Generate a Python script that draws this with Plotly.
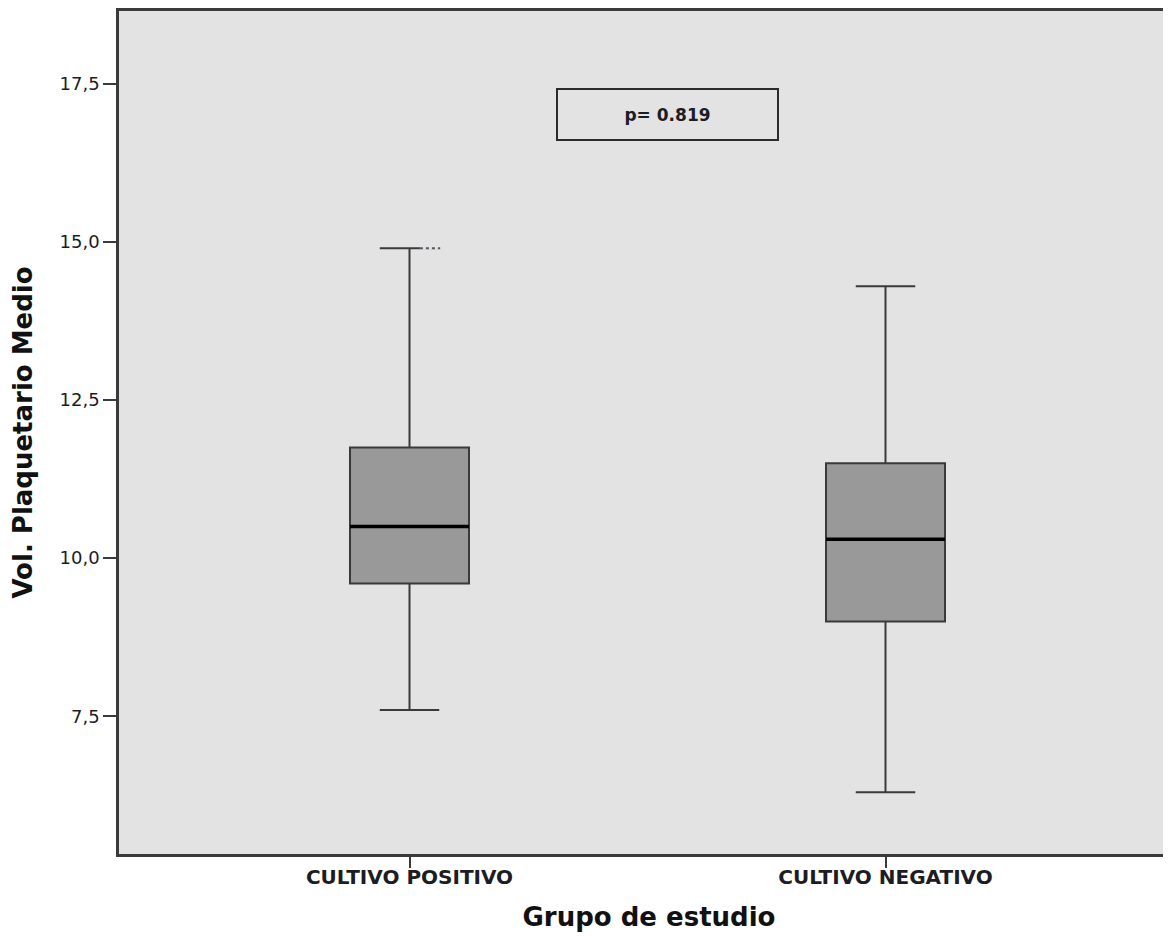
import plotly.graph_objects as go

categories = ["CULTIVO POSITIVO", "CULTIVO NEGATIVO"]
lower_whisker = [7.6, 6.3]
q1 = [9.6, 9.0]
median = [10.5, 10.3]
q3 = [11.75, 11.5]
upper_whisker = [14.9, 14.3]
y_ticks = [7.5, 10.0, 12.5, 15.0, 17.5]
y_tick_labels = ["7,5", "10,0", "12,5", "15,0", "17,5"]
p_text = "p= 0.819"
p_pos = (0.541, 17.02)

positions = list(range(len(categories)))
box_width = 0.25
whisker_frac = 0.5

FONT = "DejaVu Sans"
TEXT = "#1c1c24"
BG = "#e3e3e3"
LINE = "#3a3a3a"

fig = go.Figure()
fig.add_trace(go.Box(
    x=positions, q1=q1, median=median, q3=q3,
    lowerfence=lower_whisker, upperfence=upper_whisker,
    width=box_width, whiskerwidth=whisker_frac,
    fillcolor="#999999", line=dict(color=LINE, width=2),
    boxpoints=False, hoverinfo="skip", showlegend=False,
))
for p, m in zip(positions, median):
    fig.add_trace(go.Scatter(
        x=[p - box_width / 2, p + box_width / 2], y=[m, m], mode="lines",
        line=dict(color="#000000", width=3.5), showlegend=False, hoverinfo="skip",
    ))

# dotted tail on the upper whisker cap of the first group (as in the original rendering)
half_cap = box_width * whisker_frac / 2
cap_x = [positions[0] + half_cap * 0.35, positions[0] + half_cap + 0.002]
fig.add_trace(go.Scatter(
    x=cap_x, y=[upper_whisker[0]] * 2, mode="lines",
    line=dict(color=BG, width=3), showlegend=False, hoverinfo="skip",
))
fig.add_trace(go.Scatter(
    x=cap_x, y=[upper_whisker[0]] * 2, mode="lines",
    line=dict(color="#555a66", width=2, dash="dot"), showlegend=False, hoverinfo="skip",
))

fig.add_annotation(
    text="<b>" + p_text + "</b>", xref="x", yref="y", x=p_pos[0], y=p_pos[1],
    xanchor="center", yanchor="middle",
    showarrow=False, width=219, height=49, borderpad=0,
    bordercolor="#2b2b2b", borderwidth=2,
    font=dict(family=FONT, size=17, color=TEXT),
)

fig.update_layout(
    width=1171, height=929,
    margin=dict(l=111, r=0, t=0, b=83),
    paper_bgcolor="white", plot_bgcolor=BG,
    xaxis=dict(
        range=[-0.6103, 1.6166], tickvals=positions, ticktext=["<b>" + c + "</b>" for c in categories],
        showgrid=False, zeroline=False, showline=True, linecolor=LINE, linewidth=2.5,
        mirror=True, ticks="outside", ticklen=11, tickcolor=LINE, tickwidth=2,
        ticklabelstandoff=-8,
        tickfont=dict(family=FONT, size=20, color=TEXT),
        title=dict(text="<b>Grupo de estudio</b>", font=dict(family=FONT, size=26, color="#111"), standoff=21),
    ),
    yaxis=dict(
        range=[5.323, 18.651], tickvals=y_ticks, ticktext=y_tick_labels,
        showgrid=False, zeroline=False, showline=True, linecolor=LINE, linewidth=2.5,
        ticks="outside", ticklen=13, tickcolor=LINE, tickwidth=2,
        tickfont=dict(family=FONT, size=18, color=TEXT),
        title=dict(text="<b>Vol. Plaquetario Medio</b>", font=dict(family=FONT, size=26, color="#111"), standoff=21),
    ),
)

fig.write_html("out.html")
